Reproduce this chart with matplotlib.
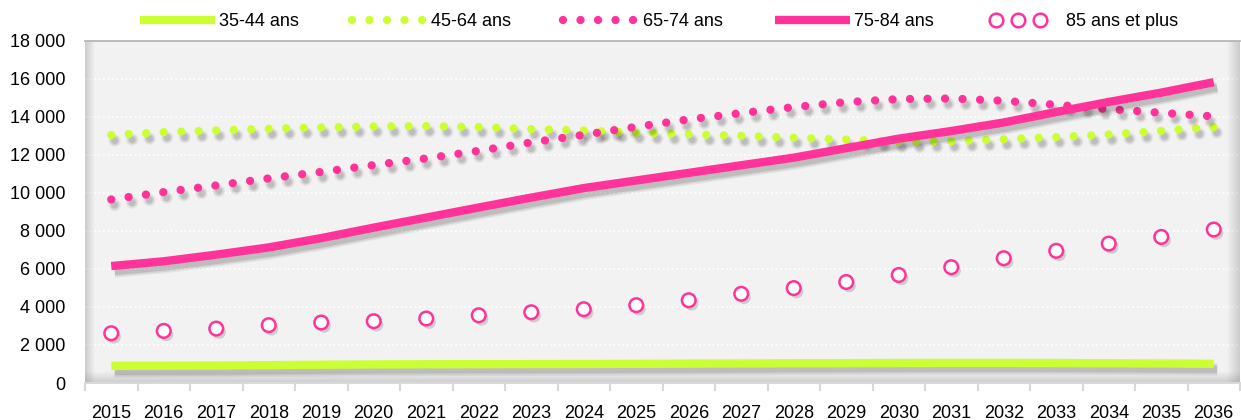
import matplotlib
matplotlib.use("Agg")
import matplotlib.pyplot as plt
import matplotlib.patheffects as pe
from matplotlib.legend_handler import HandlerLine2D
from matplotlib.ticker import FuncFormatter
import numpy as np

plt.rcParams['font.family'] = ['Liberation Sans', 'DejaVu Sans']

# Data
years = list(range(2015, 2037))
age_35_44 = [900, 910, 920, 940, 960, 975, 985, 990, 995, 1000, 1010,
             1020, 1030, 1040, 1045, 1050, 1055, 1055, 1050, 1040, 1030, 1010]
age_45_64 = [13040, 13190, 13280, 13370, 13440, 13490, 13510, 13460, 13350, 13280, 13160,
             13080, 13000, 12900, 12800, 12690, 12710, 12820, 12930, 13070, 13260, 13460]
age_65_74 = [9650, 10040, 10390, 10760, 11100, 11460, 11810, 12210, 12650, 13050, 13470,
             13860, 14190, 14510, 14770, 14930, 14960, 14840, 14630, 14400, 14210, 14020]
age_75_84 = [6150, 6400, 6750, 7130, 7620, 8170, 8700, 9230, 9750, 10250, 10650,
             11050, 11450, 11850, 12350, 12850, 13250, 13700, 14250, 14780, 15270, 15820]
age_85_plus = [2615, 2740, 2860, 3040, 3180, 3250, 3390, 3560, 3720, 3880, 4090,
               4350, 4690, 4990, 5310, 5680, 6090, 6560, 6950, 7330, 7680, 8070]
labels = ["35-44 ans", "45-64 ans", "65-74 ans", "75-84 ans", "85 ans et plus"]

green = '#ccff33'
pink = '#ff3399'

fig = plt.figure(figsize=(12.41, 4.2), dpi=100)
ax = fig.add_axes([85 / 1241, 1 - 383 / 420, 1155 / 1241, 342.3 / 420])
ax.set_facecolor('#f2f2f2')

x = np.arange(len(years))


def shadow(lw):
    off = (2.5, -4)
    return [pe.SimpleLineShadow(offset=off, shadow_color='k', alpha=0.05, linewidth=lw + 3),
            pe.SimpleLineShadow(offset=off, shadow_color='k', alpha=0.08, linewidth=lw + 1),
            pe.SimpleLineShadow(offset=off, shadow_color='k', alpha=0.1, linewidth=lw - 1),
            pe.Normal()]


lw_dot = 6.0
dots = (0, (0.001, 12.6 / lw_dot))
lw_solid = 6.0

ax.plot(x, age_35_44, color=green, lw=lw_solid, solid_capstyle='butt',
        label=labels[0], path_effects=shadow(lw_solid), zorder=3)
ax.plot(x, age_45_64, color=green, lw=lw_dot, linestyle=dots, dash_capstyle='round',
        label=labels[1], path_effects=shadow(lw_dot), zorder=3)
ax.plot(x, age_65_74, color=pink, lw=lw_dot, linestyle=dots, dash_capstyle='round',
        label=labels[2], path_effects=shadow(lw_dot), zorder=3)
ax.plot(x, age_75_84, color=pink, lw=lw_solid, solid_capstyle='butt',
        label=labels[3], path_effects=shadow(lw_solid), zorder=3)
old = ax.plot(x, age_85_plus, linestyle='none', marker='o', ms=9.8, mew=1.8,
              mfc='white', mec=pink, label=labels[4],
              path_effects=[pe.SimplePatchShadow(offset=(2, -2.5), shadow_rgbFace='k', alpha=0.15),
                            pe.Normal()], zorder=4)[0]


# inner shadows of the plot area
def strip(extent, horizontal, reverse):
    n = 64
    a = np.linspace(0.3, 0.0, n)
    if reverse:
        a = a[::-1]
    img = np.zeros((1, n, 4)) if horizontal else np.zeros((n, 1, 4))
    img[..., :3] = 0.45
    img[..., 3] = a.reshape(img.shape[:2])
    ax.imshow(img, extent=extent, transform=ax.transAxes, aspect='auto',
              interpolation='bilinear', zorder=1)


strip((0, 0.008, 0, 1), True, False)
strip((0.989, 1, 0, 1), True, True)
strip((0, 1, 0, 0.035), False, True)

ax.set_xlim(-0.5, len(years) - 0.5)
ax.set_ylim(0, 18000)

ax.set_yticks(range(0, 18001, 2000))
ax.yaxis.set_major_formatter(FuncFormatter(lambda v, p: f"{v:,.0f}".replace(',', ' ')))
ax.tick_params(axis='y', length=0, pad=14, labelsize=13)

ax.set_xticks(x)
ax.set_xticklabels([str(y) for y in years])
ax.set_xticks(np.arange(-0.5, len(years)), minor=True)
ax.tick_params(axis='x', which='major', length=0, pad=16, labelsize=13)
ax.tick_params(axis='x', which='minor', length=6, width=1.5, color='#d9d9d9')

ax.grid(axis='y', color='white', linestyle=(0, (1, 1.5)), lw=1.3, zorder=0)
ax.set_axisbelow(True)
for s in ['left', 'right']:
    ax.spines[s].set_visible(False)
ax.spines['top'].set_color('#b0b0b0')
ax.spines['top'].set_linestyle((0, (1, 1)))
ax.spines['top'].set_linewidth(1.2)
ax.spines['bottom'].set_color('#d9d9d9')
ax.spines['bottom'].set_linewidth(1.5)


class LeftMarkers(HandlerLine2D):
    # three markers packed toward the left of the handle
    def get_xdata(self, legend, xdescent, ydescent, width, height, fontsize):
        xd = -xdescent + np.array([0.12, 0.42, 0.72]) * width
        return xd, xd


leg = fig.legend(loc='center', bbox_to_anchor=(0.531, 1 - 22 / 420), ncol=5,
                 frameon=False, fontsize=13, handlelength=4.15, handletextpad=0.25,
                 columnspacing=2.9, handler_map={old: LeftMarkers(numpoints=3)})
for h in leg.get_lines():
    h.set_path_effects([])

fig.savefig('out.png', dpi=100)
